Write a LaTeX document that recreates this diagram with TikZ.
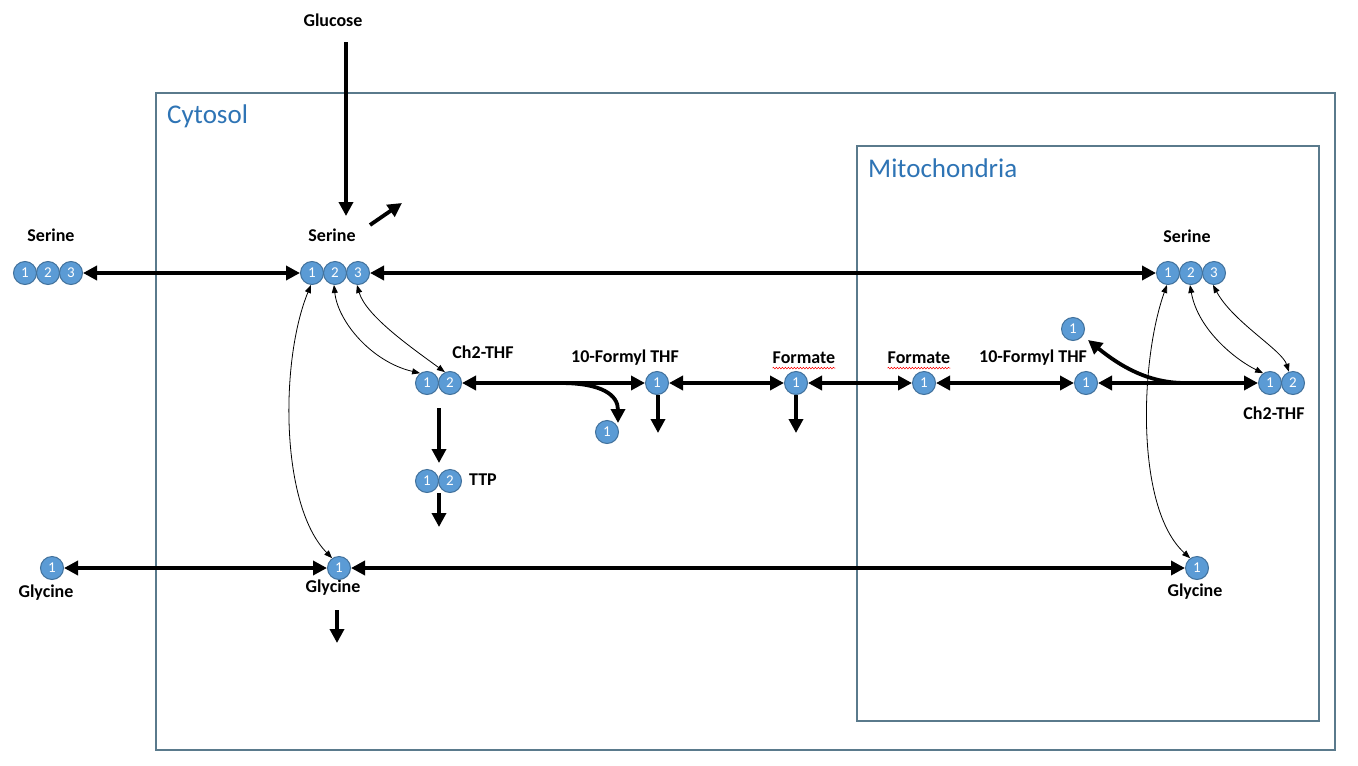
\documentclass[tikz,border=0pt]{standalone}
\usepackage{fontspec}
\setmainfont{Carlito}
\usetikzlibrary{arrows.meta,decorations.pathmorphing}
\definecolor{boxc}{HTML}{5A7A8C}
\definecolor{titlec}{HTML}{2E74B5}
\definecolor{cfill}{HTML}{5B9BD5}
\definecolor{cdraw}{HTML}{41719C}
\begin{document}
\begin{tikzpicture}[x=1pt,y=-1pt,
 mol/.style={circle,fill=cfill,draw=cdraw,line width=1pt,minimum size=23pt,inner sep=0pt,text=white,font=\fontsize{15}{15}\selectfont},
 lbl/.style={font=\bfseries\fontsize{18}{18}\selectfont,inner sep=0pt},
 ttl/.style={font=\fontsize{27}{27}\selectfont,text=titlec,anchor=west,inner sep=0pt},
 onearr/.style={line width=3.8pt,-{Triangle[length=14pt,width=14pt]}},
 twoarr/.style={line width=3.8pt,{Triangle[length=14pt,width=14pt]}-{Triangle[length=14pt,width=14pt]}},
 thinarr/.style={line width=0.8pt,{Triangle[length=8pt,width=6pt]}-{Triangle[length=8pt,width=6pt]}},
 boxline/.style={draw=boxc,line width=1.5pt},
 wavy/.style={draw=red,line width=0.5pt,decorate,decoration={snake,amplitude=0.8pt,segment length=3pt}},
]
\useasboundingbox (0,0) rectangle (1358,766);
\fill[white] (0,0) rectangle (1358,766);
% compartments
\draw[boxline] (156,93) rectangle (1335,750);
\draw[boxline] (857,146) rectangle (1319,721);
\node[ttl] (tcyt) at (167,116) {Cytosol};
\node[ttl] (tmit) at (868,168) {Mitochondria};
% labels
\node[lbl] (glu) at (333,20) {Glucose};
\node[lbl] (lser) at (51,235) {Serine};
\node[lbl] (cser) at (332,235) {Serine};
\node[lbl] (mser) at (1187,236) {Serine};
\node[lbl] (cch2) at (483,352) {Ch2-THF};
\node[lbl] (cfor) at (625,358) {10-Formyl THF};
\node[lbl] (cfm) at (804,358) {Formate};
\node[lbl] (mfm) at (919,358) {Formate};
\node[lbl] (mfor) at (1033,358) {10-Formyl THF};
\node[lbl] (mch2) at (1274,413) {Ch2-THF};
\node[lbl] (ttp) at (483,480) {TTP};
\node[lbl] (lgly) at (46,593) {Glycine};
\node[lbl] (cgly) at (333,588) {Glycine};
\node[lbl] (mgly) at (1195,592) {Glycine};
\draw[wavy] ([yshift=-4pt]cfm.south west) -- ([yshift=-4pt]cfm.south east);
\draw[wavy] ([yshift=-4pt]mfm.south west) -- ([yshift=-4pt]mfm.south east);
% molecules
\node[mol] (ls1) at (25,273) {1};
\node[mol] (ls2) at (48,273) {2};
\node[mol] (ls3) at (71,273) {3};
\node[mol] (cs1) at (312,273) {1};
\node[mol] (cs2) at (335,273) {2};
\node[mol] (cs3) at (358,273) {3};
\node[mol] (ms1) at (1168,273) {1};
\node[mol] (ms2) at (1191,273) {2};
\node[mol] (ms3) at (1214,273) {3};
\node[mol] (cc1) at (427,383) {1};
\node[mol] (cc2) at (450,383) {2};
\node[mol] (cf) at (657,383) {1};
\node[mol] (cx) at (607,432) {1};
\node[mol] (cfo) at (796,383) {1};
\node[mol] (mfo) at (924,383) {1};
\node[mol] (mf) at (1086,383) {1};
\node[mol] (mx) at (1073,329) {1};
\node[mol] (mc1) at (1270,383) {1};
\node[mol] (mc2) at (1293,383) {2};
\node[mol] (t1) at (427,481) {1};
\node[mol] (t2) at (450,481) {2};
\node[mol] (lg) at (52,568) {1};
\node[mol] (cg) at (339,568) {1};
\node[mol] (mg) at (1197,568) {1};
% free ends
\coordinate (gtop) at (346,42);
\coordinate (gbot) at (346,216);
\coordinate (oa) at (370,225);
\coordinate (ob) at (402,203);
\coordinate (chd1) at (439,408);
\coordinate (chd2) at (439,463);
\coordinate (ttd1) at (439,493);
\coordinate (ttd2) at (439,527);
\coordinate (cfd1) at (658,395);
\coordinate (cfd2) at (658,433);
\coordinate (fod1) at (796,395);
\coordinate (fod2) at (796,433);
\coordinate (gyd1) at (337,610);
\coordinate (gyd2) at (337,643);
\coordinate (br1) at (560,383);
\coordinate (br1e) at (618,423);
\coordinate (br2) at (1185,383);
\coordinate (br2e) at (1088,340);
% thick connectors
\draw[onearr] (gtop) -- (gbot);
\draw[onearr] (oa) -- (ob);
\draw[twoarr] (ls3) -- (cs1);
\draw[twoarr] (cs3) -- (ms1);
\draw[twoarr] (cc2) -- (cf);
\draw[onearr] (br1) .. controls (602,383) and (618,395) .. (br1e);
\draw[twoarr] (cf) -- (cfo);
\draw[twoarr] (cfo) -- (mfo);
\draw[twoarr] (mfo) -- (mf);
\draw[twoarr] (mf) -- (mc1);
\draw[onearr] (br2) .. controls (1148,383) and (1120,366) .. (br2e);
\draw[onearr] (chd1) -- (chd2);
\draw[onearr] (ttd1) -- (ttd2);
\draw[onearr] (cfd1) -- (cfd2);
\draw[onearr] (fod1) -- (fod2);
\draw[twoarr] (lg) -- (cg);
\draw[twoarr] (cg) -- (mg);
\draw[onearr] (gyd1) -- (gyd2);
% thin connectors
\draw[thinarr] (cs1.-95) .. controls (280,360) and (280,505) .. (cg.125);
\draw[thinarr] (cs2.-95) .. controls (338,322) and (372,362) .. (cc1.125);
\draw[thinarr] (cs3.-95) .. controls (366,316) and (412,348) .. (cc2.115);
\draw[thinarr] (ms1.-95) .. controls (1140,360) and (1135,508) .. (mg.125);
\draw[thinarr] (ms2.-95) .. controls (1198,330) and (1236,360) .. (mc1.125);
\draw[thinarr] (ms3.-95) .. controls (1233,322) and (1282,350) .. (mc2.110);
\end{tikzpicture}
\end{document}
